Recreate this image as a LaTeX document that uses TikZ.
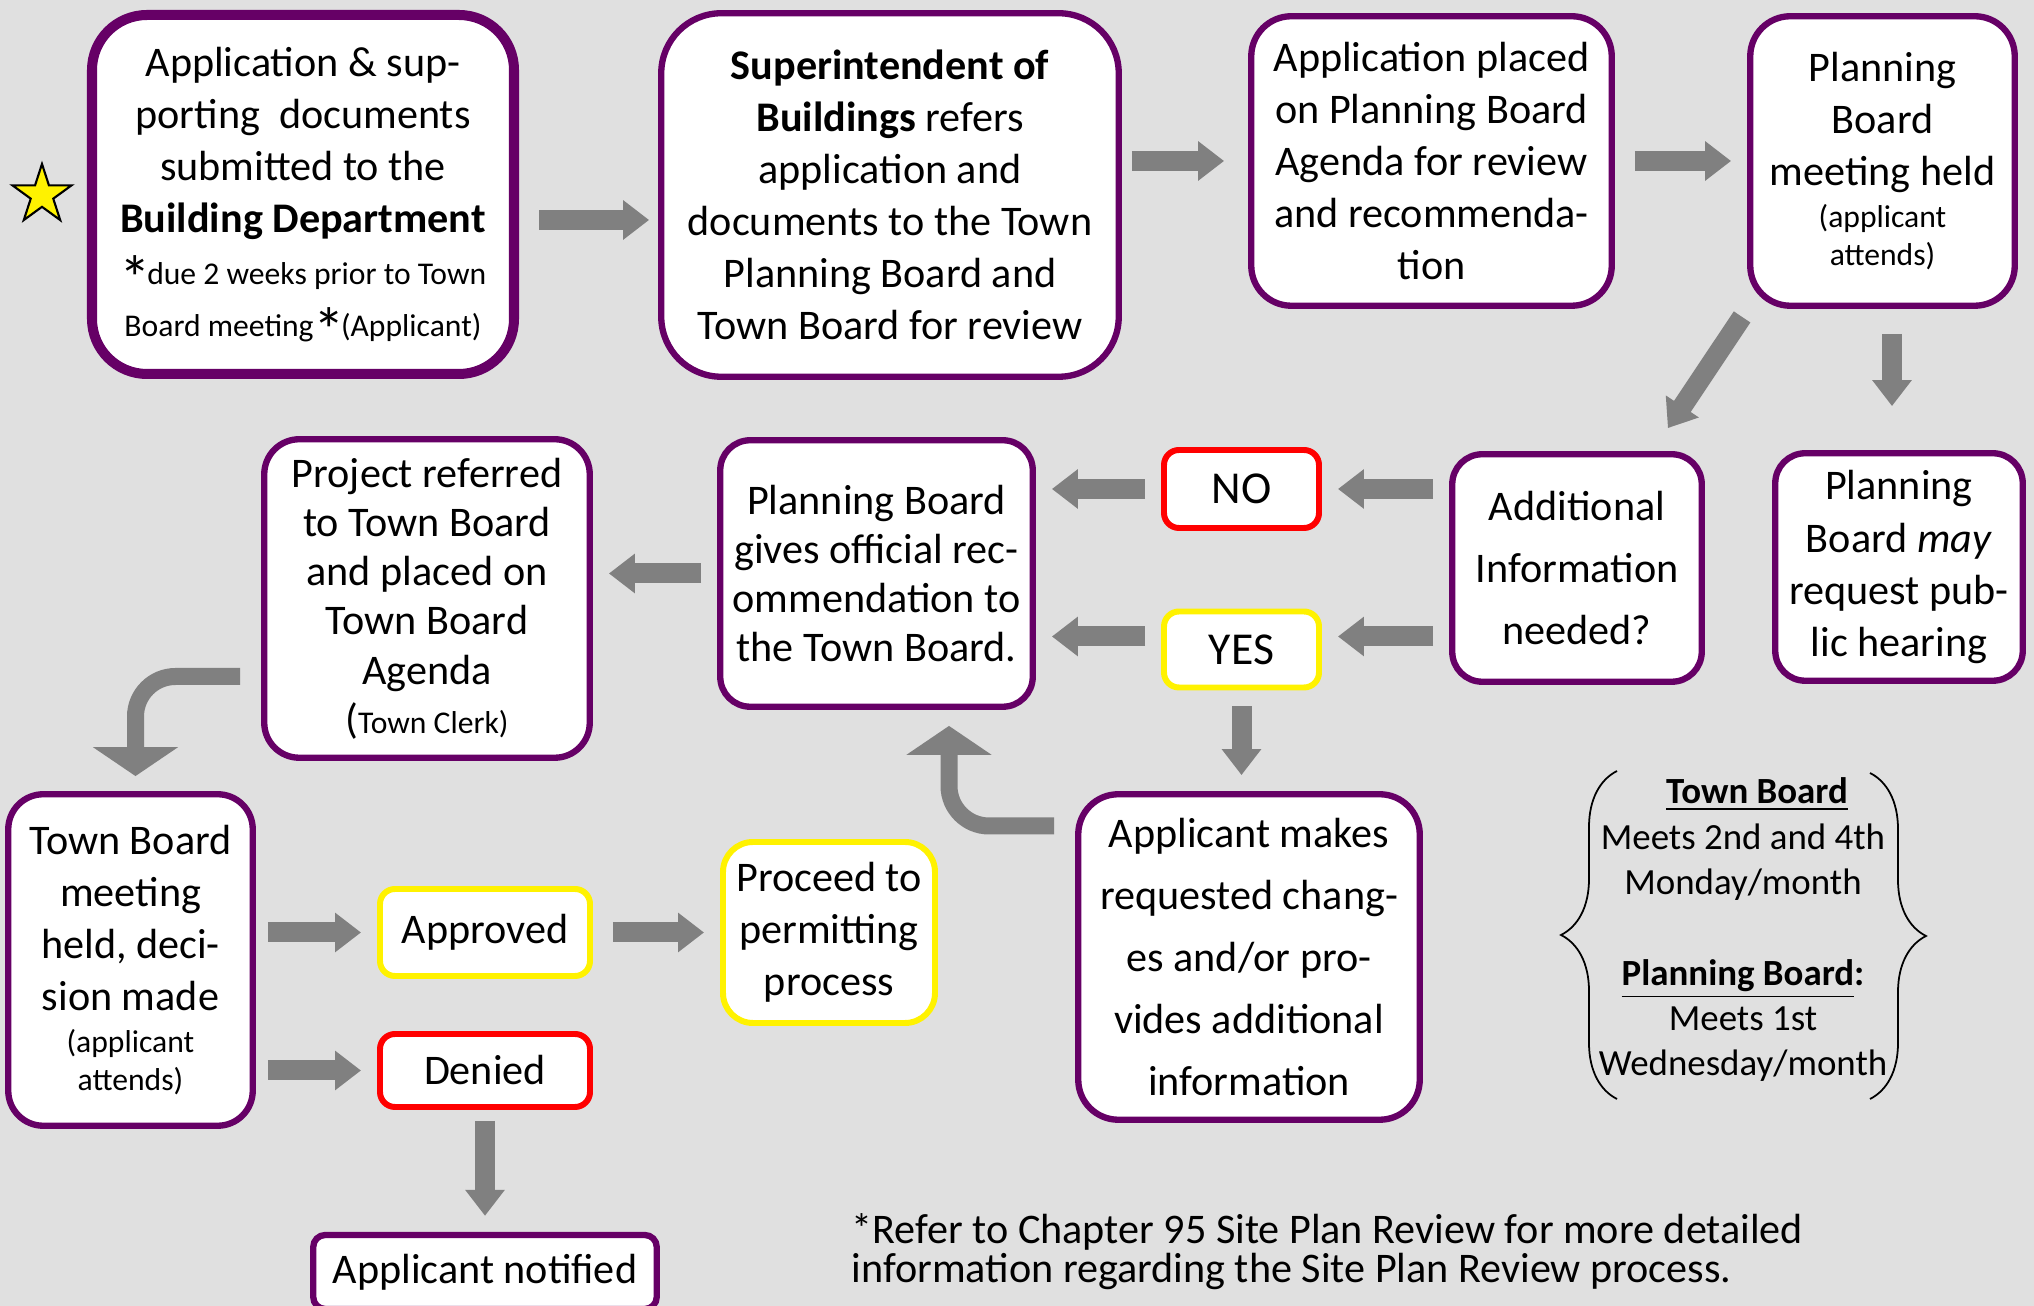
\documentclass[tikz,border=0pt]{standalone}
\usepackage{fontspec}
\setmainfont{Carlito}
\usetikzlibrary{arrows.meta, shapes.geometric, decorations.pathreplacing}

\definecolor{boxpurple}{HTML}{660066}
\definecolor{arrowgray}{HTML}{808080}
\definecolor{bggray}{HTML}{E0E0E0}

\newcommand{\fsz}[2]{\fontsize{#1}{#2}\selectfont}
\newcommand{\askstar}{{\fsz{18}{14.8}\raisebox{-0.16cm}[0pt][0pt]{*}}\hspace{-0.04cm}}

\tikzset{
  box/.style={draw=boxpurple, fill=white, line width=1.8pt, rounded corners=0.35cm,
    align=center, inner sep=0pt, font=\fsz{12}{14.8}},
  redbox/.style={box, draw=red, line width=1.7pt, rounded corners=0.15cm},
  yellowbox/.style={box, draw=yellow, line width=1.7pt, rounded corners=0.15cm},
  flow/.style={draw=arrowgray, line width=0.2cm, -{Triangle[width=0.38cm,length=0.26cm]},
    shorten <=0.16cm, shorten >=0.16cm},
  bigflow/.style={flow, line width=0.17cm, -{Triangle[width=0.84cm,length=0.29cm]},
    rounded corners=0.4cm},
  brace/.style={decorate, decoration={brace, amplitude=0.56cm}, line width=0.5pt}
}

\begin{document}
\begin{tikzpicture}
\fill[bggray] (0,0) rectangle (20.34,-13.06);
\useasboundingbox (0,0) rectangle (20.34,-13.06);

% first row
\node[star, star points=5, star point ratio=2.618, fill=yellow, draw=black, line width=0.6pt,
  minimum size=0.62cm, inner sep=0pt] (star) at (0.42,-1.95) {};
\node[box, line width=2.85pt, rounded corners=0.55cm, minimum width=4.22cm, minimum height=3.59cm]
  (submit) at (3.03,-1.945)
  {Application \& sup-\\porting\ \ documents\\submitted to the\\\textbf{Building Department}\\
   \askstar\fsz{9}{14.8}due 2 weeks prior to Town\\
   \fsz{9}{14.8}Board meeting\askstar(Applicant)};
\node[box, rounded corners=0.6cm, minimum width=4.575cm, minimum height=3.635cm]
  (refer) at (8.90,-1.95)
  {\textbf{Superintendent of}\\\textbf{Buildings} refers\\application and\\documents to the Town\\
   Planning Board and\\Town Board for review};
\node[box, rounded corners=0.4cm, minimum width=3.605cm, minimum height=2.895cm]
  (agenda) at (14.315,-1.61)
  {Application placed\\on Planning Board\\Agenda for review\\and recommenda-\\tion};
\node[box, rounded corners=0.4cm, minimum width=2.645cm, minimum height=2.895cm]
  (pbmeet) at (18.825,-1.61)
  {Planning\\Board\\meeting held\\[-0.1cm]\fsz{9}{11}(applicant\\[-0.14cm]\fsz{9}{11}attends)};

% second row
\node[box, rounded corners=0.3cm, minimum width=2.495cm, minimum height=2.275cm, font=\fsz{12}{17.6}]
  (addinfo) at (15.77,-5.68) {Additional\\Information\\needed?};
\node[box, rounded corners=0.3cm, minimum width=2.475cm, minimum height=2.275cm]
  (hearing) at (18.99,-5.67) {Planning\\Board \textit{may}\\request pub-\\lic hearing};
\node[redbox, minimum width=1.55cm, minimum height=0.78cm, font=\fsz{13}{15}]
  (no) at (12.415,-4.89) {NO};
\node[yellowbox, minimum width=1.55cm, minimum height=0.76cm, font=\fsz{13}{15}]
  (yes) at (12.415,-6.495) {YES};
\node[box, rounded corners=0.3cm, minimum width=3.125cm, minimum height=2.665cm, font=\fsz{12}{14}]
  (recomm) at (8.765,-5.735)
  {Planning Board\\gives official rec-\\ommendation to\\the Town Board.};
\node[box, rounded corners=0.35cm, minimum width=3.255cm, minimum height=3.185cm, font=\fsz{12}{14}]
  (referred) at (4.27,-5.985)
  {Project referred\\to Town Board\\and placed on\\Town Board\\Agenda\\(\fsz{9}{11}Town Clerk)};

% third row
\node[box, rounded corners=0.35cm, minimum width=2.445cm, minimum height=3.315cm]
  (tbmeet) at (1.305,-9.60)
  {Town Board\\meeting\\held, deci-\\sion made\\[-0.1cm]\fsz{9}{11}(applicant\\[-0.14cm]\fsz{9}{11}attends)};
\node[yellowbox, minimum width=2.10cm, minimum height=0.87cm] (approved) at (4.85,-9.325) {Approved};
\node[redbox, minimum width=2.10cm, minimum height=0.73cm] (denied) at (4.85,-10.705) {Denied};
\node[yellowbox, rounded corners=0.3cm, minimum width=2.12cm, minimum height=1.81cm]
  (permit) at (8.29,-9.325) {Proceed to\\permitting\\process};
\node[box, rounded corners=0.4cm, minimum width=3.415cm, minimum height=3.255cm, font=\fsz{12}{17.6}]
  (changes) at (12.49,-9.57)
  {Applicant makes\\requested chang-\\es and/or pro-\\vides additional\\information};
\node[box, rounded corners=0.12cm, minimum width=3.435cm, minimum height=0.74cm]
  (notified) at (4.85,-12.72) {Applicant notified};

% meeting days
\node[align=center, inner sep=0pt, font=\fsz{10.5}{12.9}] (legend) at (17.43,-9.30)
  {\hspace{0.28cm}\underline{\textbf{Town Board}}\\Meets 2nd and 4th\\Monday/month\\[12.9pt]
   \underline{\textbf{Planning Board}}\textbf{:}\\Meets 1st\\Wednesday/month};
\draw[brace] ([xshift=-1.26cm,yshift=-1.69cm]legend.center) -- ([xshift=-1.26cm,yshift=1.59cm]legend.center);
\draw[brace] ([xshift=1.27cm,yshift=1.57cm]legend.center) -- ([xshift=1.27cm,yshift=-1.69cm]legend.center);

\node[anchor=north west, align=left, inner sep=0pt, font=\fsz{12}{11.1}] (note) at (8.51,-12.13)
  {*Refer to Chapter 95 Site Plan Review for more detailed\\
   information regarding the Site Plan Review process.};

% arrows
\coordinate (abstart) at ([yshift=-0.255cm]submit.east);
\draw[flow, shorten <=0.2cm, shorten >=0.09cm] (abstart) -- (abstart -| refer.west);
\draw[flow, shorten <=0.1cm, shorten >=0.24cm] (refer.east |- agenda.west) -- (agenda.west);
\draw[flow, shorten <=0.2cm] (agenda.east) -- (pbmeet.west);
\draw[flow, shorten <=0pt, shorten >=0pt] ([xshift=-0.05cm,yshift=-0.08cm]pbmeet.south west)
  -- ([xshift=-0.37cm,yshift=0.23cm]addinfo.north east);
\coordinate (pbdown) at ([xshift=0.095cm]pbmeet.south);
\draw[flow, shorten <=0.25cm, shorten >=0.44cm] (pbdown) -- (pbdown |- hearing.north);

\coordinate (yesin) at ([yshift=0.13cm]yes.east);
\coordinate (yesout) at ([yshift=0.13cm]yes.west);
\draw[flow] (addinfo.west |- no.east) -- (no.east);
\draw[flow] (addinfo.west |- yesin) -- (yesin);
\draw[flow] (no.west) -- (no.west -| recomm.east);
\draw[flow] (yesout) -- (yesout -| recomm.east);
\draw[flow] (recomm.west) -- (recomm.west -| referred.east);
\draw[flow] (yes.south) -- (yes.south |- changes.north);

\draw[bigflow, shorten <=0.21cm, shorten >=0.15cm] ([yshift=-0.78cm]referred.west) -| ([xshift=0.05cm]tbmeet.north);
\draw[bigflow, shorten <=0.21cm, shorten >=0.16cm] ([yshift=1.31cm]changes.west) -| ([xshift=0.725cm]recomm.south);

\draw[flow, shorten <=0.12cm] (tbmeet.east |- approved.west) -- (approved.west);
\draw[flow, shorten <=0.12cm] (tbmeet.east |- denied.west) -- (denied.west);
\draw[flow, shorten <=0.2cm] (approved.east) -- (permit.west);
\draw[flow, shorten <=0.11cm] (denied.south) -- (notified.north);
\end{tikzpicture}
\end{document}
